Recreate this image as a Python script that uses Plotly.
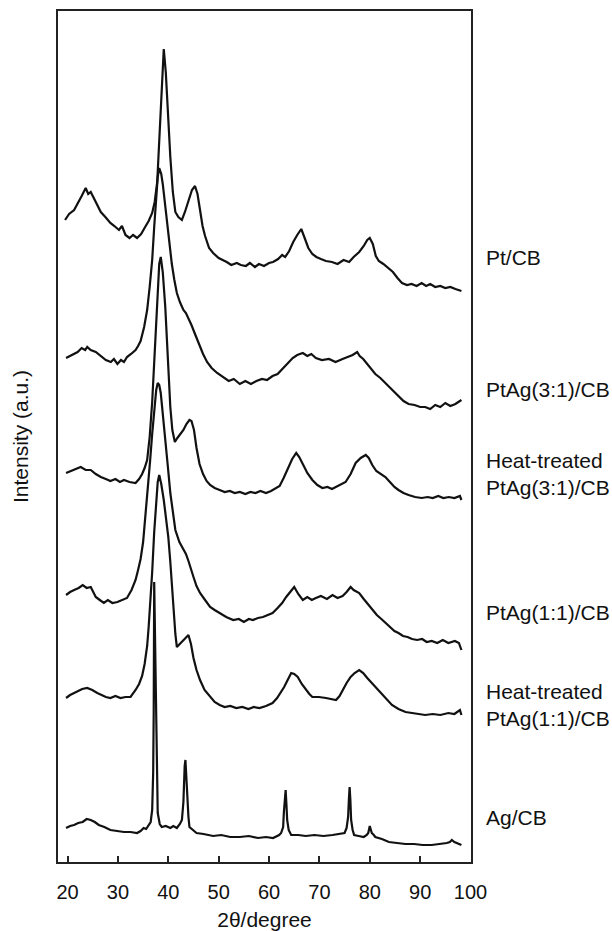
import plotly.graph_objects as go

# ---------------- data (stacked intensities in a.u.) ----------------
x_ticks = [20, 30, 40, 50, 60, 70, 80, 90, 100]

labels = ["Pt/CB", "PtAg(3:1)/CB", "Heat-treated<br>PtAg(3:1)/CB",
          "PtAg(1:1)/CB", "Heat-treated<br>PtAg(1:1)/CB", "Ag/CB"]
label_y = [605, 473, 388, 250, 157, 45]

pt_x = [19.5, 20.3, 21.3, 22.2, 22.8, 23.6, 24.1, 24.6, 25.4, 26.6, 27.5, 28.5, 29.3, 30.2, 30.8,
        31.5, 32.3, 33.0, 33.8, 34.6, 35.4, 36.1, 36.8, 37.3, 37.8, 38.3, 38.7, 39.1, 39.5, 39.9,
        40.4, 40.9, 41.4, 42.0, 42.7, 43.3, 44.0, 44.7, 45.3, 45.8, 46.3, 46.8, 47.3, 48.1, 48.9,
        50.0, 51.6, 52.5, 53.6, 54.4, 55.4, 56.2, 57.2, 58.0, 59.0, 60.0, 60.8, 61.8, 62.6, 63.2,
        64.0, 64.8, 65.6, 66.4, 67.0, 67.8, 68.6, 69.4, 70.3, 71.3, 72.5, 73.6, 74.8, 75.9, 76.8,
        77.9, 78.8, 79.5, 80.0, 80.6, 81.2, 81.8, 82.7, 83.7, 84.6, 85.5, 86.4, 87.4, 88.3, 89.3,
        90.3, 91.2, 92.0, 93.0, 94.0, 95.0, 96.0, 97.0, 98.2]
pt_y = [642, 648, 652, 660, 666, 674, 668, 670, 662, 650, 645, 639, 636, 632, 636,
        627, 624, 627, 624, 628, 635, 641, 649, 660, 680, 735, 785, 813, 790, 745,
        705, 670, 650, 645, 642, 650, 662, 672, 676, 668, 652, 636, 626, 614, 609,
        604, 600, 597, 599, 597, 596, 599, 595, 598, 596, 599, 600, 603, 607, 605,
        611, 620, 627, 633, 625, 614, 608, 605, 603, 601, 600, 598, 602, 600, 605,
        610, 616, 622, 624, 618, 606, 601, 598, 594, 590, 584, 579, 577, 578, 576,
        579, 576, 578, 575, 576, 574, 575, 573, 571]

ptag31_x = [19.7, 20.5, 21.3, 22.0, 22.8, 23.5, 23.9, 24.6, 25.6, 26.5, 27.6, 28.6, 29.2, 29.9, 30.6,
            31.2, 31.8, 32.6, 33.5, 34.0, 34.5, 35.2, 35.8, 36.3, 36.8, 37.2, 37.6, 37.9, 38.2, 38.6,
            38.9, 39.3, 39.7, 40.2, 40.7, 41.2, 41.7, 42.3, 43.0, 43.5, 44.0, 44.6, 45.3, 46.1, 46.9,
            47.7, 48.6, 49.7, 50.9, 52.0, 53.0, 54.2, 55.3, 56.4, 57.5, 58.6, 59.6, 60.7, 61.7, 62.7,
            63.7, 64.7, 65.6, 66.7, 67.6, 68.4, 69.3, 70.5, 71.9, 73.2, 74.6, 75.6, 76.6, 77.5, 78.0,
            78.7, 79.5, 80.3, 81.1, 82.1, 83.1, 84.4, 85.7, 86.7, 87.7, 88.9, 90.0, 91.0, 92.0, 93.0,
            94.0, 95.0, 96.0, 97.0, 98.2]
ptag31_y = [504, 506, 508, 510, 514, 512, 515, 512, 510, 506, 502, 500, 503, 498, 502,
            500, 505, 508, 512, 516, 521, 535, 552, 575, 602, 635, 665, 685, 694, 688,
            678, 660, 638, 615, 598, 582, 569, 560, 552, 549, 544, 537, 528, 517, 508,
            500, 494, 489, 485, 481, 483, 478, 481, 478, 481, 483, 482, 486, 488, 493,
            498, 504, 507, 509, 506, 508, 504, 502, 503, 500, 503, 505, 507, 510, 506,
            503, 498, 493, 488, 484, 479, 472, 465, 461, 458, 457, 455, 455, 453, 457,
            455, 459, 456, 458, 462]

ht31_x = [19.7, 20.6, 21.6, 22.6, 23.6, 24.6, 25.6, 26.6, 27.6, 28.5, 29.5, 30.4, 31.2, 32.3, 33.5,
          34.2, 34.8, 35.3, 35.8, 36.3, 36.8, 37.3, 37.8, 38.2, 38.5, 38.9, 39.4, 39.9, 40.4, 40.8,
          41.3, 41.8, 42.4, 43.0, 43.6, 44.2, 44.6, 45.1, 45.6, 46.2, 46.9, 47.6, 48.3, 49.2, 50.2,
          51.2, 52.2, 53.2, 54.2, 55.3, 56.3, 57.3, 58.3, 59.4, 60.4, 61.2, 62.1, 62.9, 63.7, 64.6,
          65.4, 66.0, 66.7, 67.6, 68.6, 69.6, 70.6, 71.6, 72.5, 73.3, 74.3, 75.2, 76.2, 77.2, 78.2,
          79.2, 79.8, 80.5, 81.3, 82.2, 83.1, 84.0, 84.9, 85.7, 86.7, 87.7, 89.0, 90.3, 91.5, 92.5,
          93.6, 94.6, 95.7, 96.8, 97.9, 98.2]
ht31_y = [389, 391, 393, 395, 392, 392, 388, 385, 383, 381, 383, 380, 382, 380, 379,
          383, 388, 394, 402, 425, 460, 510, 565, 598, 605, 590, 555, 500, 455, 432,
          420, 424, 428, 432, 438, 442, 441, 432, 414, 398, 388, 381, 377, 374, 372,
          370, 371, 369, 370, 368, 370, 369, 371, 369, 371, 373, 376, 384, 393, 403,
          409, 405, 398, 389, 382, 377, 374, 375, 373, 375, 377, 380, 388, 399, 404,
          407, 404, 397, 391, 388, 385, 380, 375, 372, 369, 367, 365, 364, 365, 364,
          366, 364, 365, 364, 366, 362]

ptag11_x = [19.7, 20.5, 21.3, 22.2, 23.0, 23.8, 24.6, 25.1, 25.6, 26.4, 27.2, 28.0, 28.9, 29.9, 30.9,
            31.8, 32.7, 33.5, 34.0, 34.5, 35.0, 35.4, 35.9, 36.4, 36.8, 37.2, 37.6, 37.9, 38.2, 38.5,
            38.9, 39.4, 39.9, 40.4, 40.9, 41.4, 42.2, 43.0, 43.5, 44.0, 44.5, 45.0, 45.6, 46.3, 47.3,
            48.3, 49.2, 50.2, 51.5, 52.9, 54.0, 55.0, 56.0, 56.8, 57.8, 58.8, 59.8, 60.7, 61.7, 62.6,
            63.4, 64.2, 65.0, 65.8, 66.7, 67.6, 68.5, 69.3, 70.3, 71.5, 72.6, 73.6, 74.6, 75.4, 76.2,
            76.8, 77.9, 78.8, 79.6, 80.5, 81.4, 82.3, 83.1, 84.0, 84.9, 85.7, 86.6, 87.5, 88.4, 89.4,
            90.4, 91.3, 92.3, 93.4, 94.5, 95.6, 96.9, 97.7, 98.2]
ptag11_y = [267, 270, 272, 274, 277, 274, 275, 270, 265, 262, 259, 262, 259, 260, 262,
            264, 272, 282, 292, 303, 320, 342, 370, 402, 428, 452, 472, 479, 477, 469,
            450, 425, 396, 369, 348, 332, 320, 312, 308, 301, 292, 285, 276, 269, 262,
            255, 252, 249, 245, 242, 243, 240, 243, 242, 244, 245, 247, 249, 254, 259,
            265, 270, 275, 268, 262, 265, 262, 264, 266, 263, 267, 264, 266, 270, 275,
            272, 269, 263, 258, 252, 247, 243, 239, 235, 231, 229, 226, 225, 223, 222,
            223, 220, 221, 219, 222, 219, 221, 219, 212]

ht11_x = [19.7, 20.5, 21.3, 22.1, 22.9, 23.9, 24.9, 25.9, 26.8, 27.6, 28.5, 29.5, 30.5, 31.5, 32.5,
          33.0, 33.5, 34.2, 34.8, 35.3, 35.8, 36.1, 36.4, 36.8, 37.2, 37.6, 37.9, 38.2, 38.6, 39.1,
          39.6, 40.0, 40.4, 40.7, 41.1, 41.4, 41.7, 42.3, 43.0, 43.6, 44.0, 44.5, 45.0, 45.6, 46.3,
          47.2, 48.3, 49.2, 50.2, 51.2, 52.3, 53.5, 54.7, 55.9, 57.0, 58.1, 59.4, 60.7, 61.6, 62.3,
          63.0, 63.8, 64.4, 65.0, 65.7, 66.5, 67.3, 68.0, 68.6, 69.9, 71.3, 72.3, 73.3, 74.0, 74.6,
          75.4, 76.2, 77.0, 77.9, 78.7, 79.5, 80.6, 81.8, 83.1, 84.4, 85.7, 87.1, 88.4, 89.7, 91.0,
          92.5, 94.0, 95.6, 96.8, 97.9, 98.2]
ht11_y = [164, 167, 169, 171, 173, 174, 172, 169, 167, 165, 164, 166, 164, 165, 165,
          168, 172, 178, 186, 198, 216, 235, 256, 290, 330, 365, 380, 387, 378, 362,
          342, 325, 300, 280, 245, 228, 215, 218, 221, 224, 227, 218, 204, 192, 182,
          172, 165, 160, 157, 155, 156, 154, 155, 153, 155, 154, 156, 159, 164, 169,
          175, 183, 189, 188, 185, 178, 172, 168, 165, 165, 164, 163, 162, 166, 172,
          179, 185, 189, 192, 189, 184, 178, 172, 164, 157, 153, 150, 149, 148, 147,
          148, 147, 149, 148, 152, 147]

ag_x = [19.7, 20.5, 21.3, 22.1, 23.0, 23.8, 24.6, 25.4, 26.2, 27.3, 28.5, 29.8, 31.2, 32.5, 33.8,
        34.5, 35.1, 35.6, 36.1, 36.5, 36.8, 37.0, 37.1, 37.2, 37.35, 37.55, 37.75, 37.9, 38.3, 38.7,
        39.5, 40.4, 41.0, 41.7, 42.3, 42.7, 43.0, 43.1, 43.25, 43.4, 43.55, 43.7, 44.0, 44.2, 44.8,
        45.6, 47.0, 48.9, 50.5, 52.3, 54.2, 56.0, 57.8, 59.4, 60.8, 62.0, 62.4, 62.8, 62.95, 63.15,
        63.3, 63.45, 63.6, 63.9, 64.4, 65.8, 67.3, 69.0, 70.8, 72.6, 74.0, 75.0, 75.4, 75.7, 75.85,
        76.0, 76.15, 76.3, 76.6, 76.9, 77.8, 78.8, 79.4, 79.7, 80.0, 80.2, 80.4, 80.8, 81.1, 82.4,
        83.8, 85.4, 87.1, 88.8, 90.5, 92.3, 94.0, 95.3, 95.9, 96.3, 96.8, 97.3, 98.2]
ag_y = [34, 36, 37, 39, 40, 43, 42, 40, 37, 35, 32, 31, 30, 30, 29,
        31, 34, 33, 37, 40, 52, 90, 149, 280, 230, 149, 70, 49, 38, 35,
        36, 34, 36, 34, 38, 42, 60, 82, 96, 102, 85, 65, 45, 35, 32,
        29, 28, 26, 27, 25, 25, 26, 24, 25, 24, 27, 29, 35, 50, 68,
        72, 58, 42, 32, 27, 27, 26, 27, 26, 27, 28, 29, 34, 45, 62,
        75, 62, 42, 32, 27, 26, 25, 27, 29, 36, 33, 29, 27, 25, 23,
        20, 19, 18, 18, 17, 17, 18, 19, 20, 22, 20, 19, 17]

series_x = [pt_x, ptag31_x, ht31_x, ptag11_x, ht11_x, ag_x]
series_y = [pt_y, ptag31_y, ht31_y, ptag11_y, ht11_y, ag_y]

# ---------------- figure ----------------
W, H = 612, 931
L, R, T, B = 57.7, 471.0, 11.0, 862.0
FONT = "Liberation Sans, Arial, sans-serif"

fig = go.Figure()
for xs, ys, name in zip(series_x, series_y, labels):
    fig.add_trace(go.Scatter(x=xs, y=ys, mode="lines", name=name.replace("<br>", " "),
                             line=dict(color="#111111", width=2.2), showlegend=False,
                             hoverinfo="skip"))

for txt, yv in zip(labels, label_y):
    fig.add_annotation(text=txt, xref="paper", x=1, xshift=13, xanchor="left",
                       yref="y", y=yv, yanchor="middle", showarrow=False, align="left",
                       font=dict(family=FONT, size=21, color="#111111"))

fig.update_layout(
    width=W, height=H,
    margin=dict(l=L, r=W - R, t=T, b=H - B, pad=0, autoexpand=False),
    paper_bgcolor="white", plot_bgcolor="white",
    font=dict(family=FONT, size=20, color="#111111"),
    showlegend=False,
)
fig.update_xaxes(
    range=[18.1, 100.1], tickvals=x_ticks, ticktext=[str(v) for v in x_ticks],
    ticks="inside", ticklen=6, tickwidth=1.5, tickcolor="#222222",
    showline=True, linecolor="#222222", linewidth=1.5, mirror=True,
    showgrid=False, zeroline=False, ticklabelstandoff=11, automargin=False,
    tickfont=dict(family=FONT, size=20, color="#111111"),
    title=dict(text="2θ/degree", font=dict(family=FONT, size=21, color="#111111"), standoff=14),
)
fig.update_yaxes(
    range=[0, 851], showticklabels=False, ticks="", automargin=False,
    showline=True, linecolor="#222222", linewidth=1.5, mirror=True,
    showgrid=False, zeroline=False,
    title=dict(text="Intensity (a.u.)", font=dict(family=FONT, size=21, color="#111111"), standoff=22),
)

fig.write_html("out.html")
